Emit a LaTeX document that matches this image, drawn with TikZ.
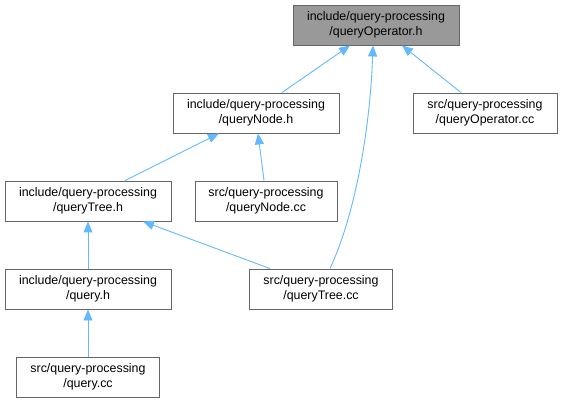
\documentclass[tikz,border=0pt]{standalone}
\usepackage{fontspec}
\setmainfont{Liberation Sans}
\usetikzlibrary{arrows.meta,calc}
\definecolor{edgeblue}{HTML}{63B8FF}
\definecolor{boxborder}{HTML}{666666}
\definecolor{rootfill}{HTML}{999999}
\tikzset{
  filebox/.style={draw=boxborder, line width=0.9pt, fill=white, minimum height=40pt, inner sep=0pt, align=center,
    font=\fontsize{12.4}{15.5}\selectfont},
  rootbox/.style={filebox, fill=rootfill},
  dep/.style={draw=edgeblue, line width=0.9pt, -{Triangle[length=11pt,width=9pt]}},
}
\begin{document}
\begin{tikzpicture}[x=1pt,y=-1pt]
\useasboundingbox (0,0) rectangle (562,403);
\node[rootbox, minimum width=166pt] (op) at (376,25) {include/query-processing\\/queryOperator.h};
\node[filebox, minimum width=166pt] (qnode) at (256,113) {include/query-processing\\/queryNode.h};
\node[filebox, minimum width=144pt] (opcc) at (485,113) {src/query-processing\\/queryOperator.cc};
\node[filebox, minimum width=166pt] (tree) at (88,201) {include/query-processing\\/queryTree.h};
\node[filebox, minimum width=142pt] (nodecc) at (266,201) {src/query-processing\\/queryNode.cc};
\node[filebox, minimum width=166pt] (qh) at (88,289) {include/query-processing\\/query.h};
\node[filebox, minimum width=143pt] (treecc) at (321,289) {src/query-processing\\/queryTree.cc};
\node[filebox, minimum width=143pt] (qcc) at (88,377) {src/query-processing\\/query.cc};

\draw[dep] ($(qnode.north)+(26,0)$) -- ($(op.south)+(-26,0)$);
\draw[dep] ($(treecc.north)+(9,0)$) .. controls (355,215) and (370,130) .. ($(op.south)+(-3,0)$);
\draw[dep] ($(opcc.north)+(-24,0)$) -- ($(op.south)+(26,0)$);
\draw[dep] ($(tree.north)+(37,0)$) -- ($(qnode.south)+(-37,0)$);
\draw[dep] ($(nodecc.north)+(-2,0)$) -- ($(qnode.south)+(2,0)$);
\draw[dep] (qh.north) -- (tree.south);
\draw[dep] ($(treecc.north)+(-51,0)$) -- ($(tree.south)+(55,0)$);
\draw[dep] (qcc.north) -- (qh.south);
\end{tikzpicture}
\end{document}
